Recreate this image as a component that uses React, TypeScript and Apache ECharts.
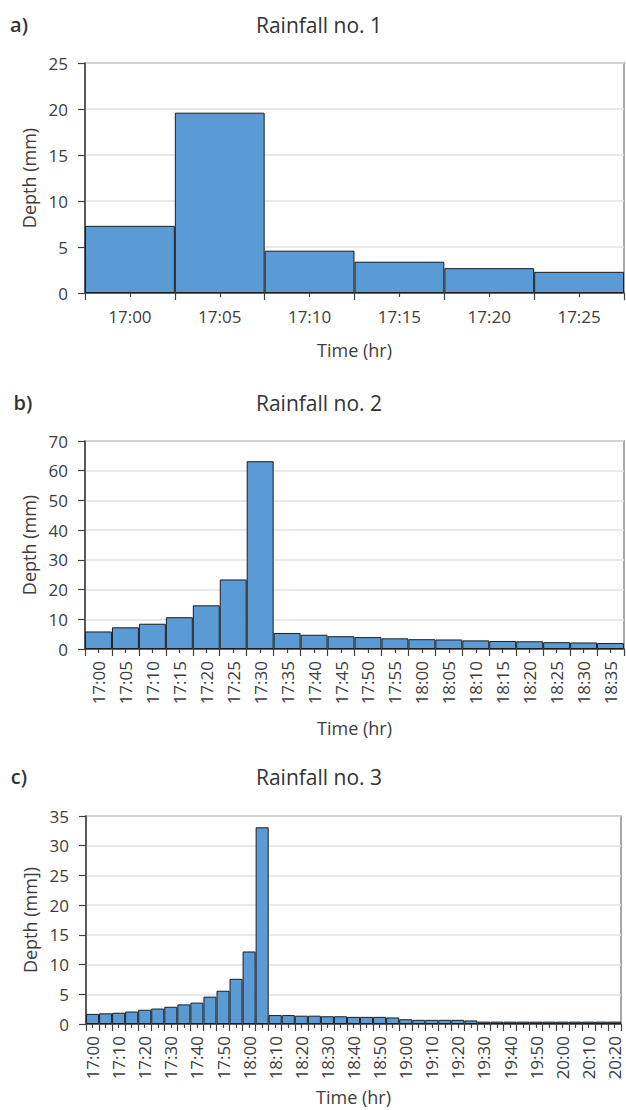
import React, { useEffect, useRef } from "react";
import * as echarts from "echarts";

// ---------- data ----------
const timesA = ["17:00", "17:05", "17:10", "17:15", "17:20", "17:25"];
const depthA = [7.3, 19.6, 4.6, 3.4, 2.7, 2.3];

const timesB = [
  "17:00", "17:05", "17:10", "17:15", "17:20", "17:25", "17:30", "17:35", "17:40", "17:45",
  "17:50", "17:55", "18:00", "18:05", "18:10", "18:15", "18:20", "18:25", "18:30", "18:35",
];
const depthB = [
  5.9, 7.3, 8.5, 10.7, 14.7, 23.4, 63.2, 5.4, 4.8, 4.3,
  4.0, 3.6, 3.3, 3.2, 2.9, 2.7, 2.6, 2.3, 2.2, 2.0,
];

const timesC = [
  "17:00", "17:05", "17:10", "17:15", "17:20", "17:25", "17:30", "17:35", "17:40", "17:45",
  "17:50", "17:55", "18:00", "18:05", "18:10", "18:15", "18:20", "18:25", "18:30", "18:35",
  "18:40", "18:45", "18:50", "18:55", "19:00", "19:05", "19:10", "19:15", "19:20", "19:25",
  "19:30", "19:35", "19:40", "19:45", "19:50", "19:55", "20:00", "20:05", "20:10", "20:15",
  "20:20",
];
const depthC = [
  1.7, 1.8, 1.9, 2.1, 2.4, 2.6, 2.9, 3.3, 3.6, 4.6,
  5.6, 7.6, 12.2, 33.1, 1.5, 1.5, 1.4, 1.4, 1.3, 1.3,
  1.2, 1.2, 1.2, 1.1, 0.8, 0.7, 0.7, 0.7, 0.7, 0.6,
  0.4, 0.4, 0.4, 0.4, 0.4, 0.4, 0.4, 0.4, 0.4, 0.4,
  0.4,
];

const titles = ["Rainfall no. 1", "Rainfall no. 2", "Rainfall no. 3"];
const panelLabels = ["a)", "b)", "c)"];
const yNames = ["Depth (mm)", "Depth (mm)", "Depth (mm])"];
const xName = "Time (hr)";
const yMax = [25, 70, 35];
const yStep = [5, 10, 5];

const FONT = "'Open Sans', 'Liberation Sans', sans-serif";
const TEXT = "#3d3d3d";

export default function App() {
  const ref = useRef<HTMLDivElement>(null);

  useEffect(() => {
    if (!ref.current) return;
    const chart = echarts.init(ref.current, undefined, { renderer: "svg" });

    const grids = [
      { left: 85, right: 2, top: 63, height: 230 },
      { left: 85, right: 2, top: 441, height: 208 },
      { left: 86, right: 5, top: 816, height: 208 },
    ];
    const cats = [timesA, timesB, timesC];
    const vals = [depthA, depthB, depthC];
    const rotate = [0, 90, 90];
    const labelInterval = [0, 0, 1];
    const labelMargin = [15, 12, 12];
    const nameGap = [48, 70, 64];

    const xAxes: any[] = [];
    const yAxes: any[] = [];
    const series: any[] = [];

    for (let i = 0; i < 3; i++) {
      xAxes.push({
        type: "category",
        gridIndex: i,
        position: "bottom",
        data: cats[i],
        name: xName,
        nameLocation: "middle",
        nameGap: nameGap[i],
        nameTextStyle: { fontFamily: FONT, fontSize: 18, color: TEXT },
        axisLine: { show: true, lineStyle: { color: "#404040", width: 1.5 } },
        axisTick: { show: true, alignWithLabel: false, interval: 0, length: 7, lineStyle: { color: "#404040", width: 1.2 } },
        axisLabel: {
          show: true,
          interval: labelInterval[i],
          rotate: rotate[i],
          margin: labelMargin[i],
          fontFamily: FONT,
          fontSize: 17,
          color: TEXT,
        },
        splitLine: { show: false },
      });
      xAxes.push({
        type: "category",
        gridIndex: i,
        position: "bottom",
        data: cats[i],
        axisLine: { show: false },
        axisTick: { show: true, alignWithLabel: true, interval: 0, length: 4, lineStyle: { color: "#404040", width: 1.2 } },
        axisLabel: { show: false },
        splitLine: { show: false },
      });
      yAxes.push({
        type: "value",
        gridIndex: i,
        min: 0,
        max: yMax[i],
        interval: yStep[i],
        name: yNames[i],
        nameLocation: "middle",
        nameGap: 46,
        nameTextStyle: { fontFamily: FONT, fontSize: 18, color: TEXT },
        axisLine: { show: true, lineStyle: { color: "#404040", width: 1.5 } },
        axisTick: { show: true, length: 7, lineStyle: { color: "#404040", width: 1.2 } },
        axisLabel: { fontFamily: FONT, fontSize: 17, color: TEXT, margin: 17 },
        splitLine: { show: true, lineStyle: { color: "#e2e2e2", width: 1.5 } },
      });
      series.push({
        type: "bar",
        xAxisIndex: 2 * i,
        yAxisIndex: i,
        data: vals[i],
        barCategoryGap: "0%",
        barGap: "0%",
        itemStyle: { color: "#5b9bd5", borderColor: "#1c1c1c", borderWidth: 1 },
      });
    }

    const titleY = [25, 403, 777];
    const labelY = [24, 402, 776];
    const labelX = [19, 23, 19];
    const graphic: any[] = [];
    for (let i = 0; i < 3; i++) {
      graphic.push({
        type: "text",
        x: 319,
        y: titleY[i],
        style: {
          text: titles[i],
          fontFamily: FONT,
          fontSize: 21,
          fill: "#333333",
          textAlign: "center",
          textVerticalAlign: "middle",
        },
      });
      graphic.push({
        type: "text",
        x: labelX[i],
        y: labelY[i],
        style: {
          text: panelLabels[i],
          fontFamily: FONT,
          fontSize: 20,
          fontWeight: 600,
          fill: "#333333",
          textAlign: "center",
          textVerticalAlign: "middle",
        },
      });
    }

    chart.setOption({
      animation: false,
      backgroundColor: "#ffffff",
      grid: grids.map((g) => ({
        ...g,
        show: true,
        borderColor: "#8a8a8a",
        borderWidth: 1.5,
        backgroundColor: "transparent",
      })),
      xAxis: xAxes,
      yAxis: yAxes,
      series,
      graphic,
    });

    return () => chart.dispose();
  }, []);

  return (
    <div
      ref={ref}
      style={{ position: "absolute", left: 0, top: 0, width: 626, height: 1110, background: "#fff" }}
    />
  );
}
